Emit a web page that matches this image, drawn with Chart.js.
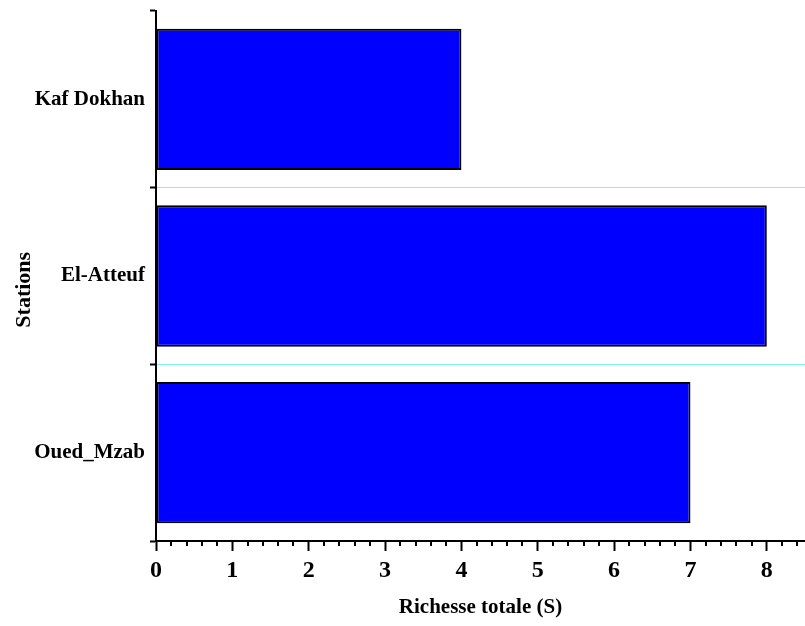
<!DOCTYPE html>
<html>
<head>
<meta charset="utf-8">
<script src="https://cdn.jsdelivr.net/npm/chart.js@4"></script>
<style>
  html, body { margin: 0; padding: 0; background: #fff; }
  #wrap { width: 805px; height: 626px; }
</style>
</head>
<body>
<div id="wrap"><canvas id="chart" width="805" height="626"></canvas></div>
<script>
const stations = ["Kaf Dokhan", "El-Atteuf", "Oued_Mzab"];
const richesse = [4, 8, 7];
const xTicks = [0, 1, 2, 3, 4, 5, 6, 7, 8];
const xMin = 0;
const xMax = 8.5;
const minorStep = 0.2;

const FONT = "'Liberation Serif', 'Times New Roman', serif";

// minor ticks on the x axis, placed through the scale
const minorTicks = {
    id: "minorTicks",
    afterDraw(chart) {
        const sx = chart.scales.x;
        const ctx = chart.ctx;
        ctx.save();
        ctx.strokeStyle = "#000";
        ctx.lineWidth = 2;
        for (let i = 1; i * minorStep < xMax; i++) {
            if (i % 5 === 0) continue;
            const px = Math.round(sx.getPixelForValue(i * minorStep));
            ctx.beginPath();
            ctx.moveTo(px, sx.top);
            ctx.lineTo(px, sx.top + 5);
            ctx.stroke();
        }
        ctx.restore();
    }
};

new Chart(document.getElementById("chart"), {
    type: "bar",
    data: {
        labels: stations,
        datasets: [{
            data: richesse,
            backgroundColor: "#0000ff",
            borderColor: "#000",
            borderWidth: 2,
            borderSkipped: false,
            categoryPercentage: 0.8,
            barPercentage: 1
        }]
    },
    options: {
        indexAxis: "y",
        responsive: false,
        animation: false,
        layout: { padding: { top: 11, right: 0, left: 0, bottom: 0 } },
        plugins: {
            legend: { display: false },
            tooltip: { enabled: false }
        },
        scales: {
            x: {
                type: "linear",
                min: xMin,
                max: xMax,
                afterBuildTicks(scale) { scale.ticks = xTicks.map(v => ({ value: v })); },
                afterFit(scale) {
                    scale.height = 85;
                    scale.paddingLeft = 0;
                    scale.paddingRight = 0;
                },
                border: { display: true, color: "#000", width: 2 },
                grid: {
                    drawOnChartArea: false,
                    drawTicks: true,
                    tickLength: 10,
                    tickWidth: 2,
                    tickColor: "#000"
                },
                ticks: {
                    autoSkip: false,
                    maxRotation: 0,
                    color: "#000",
                    padding: 5,
                    font: { family: FONT, size: 24, weight: "bold" }
                },
                title: {
                    display: true,
                    text: "Richesse totale (S)",
                    color: "#000",
                    padding: { top: 0, bottom: 6 },
                    font: { family: FONT, size: 21, weight: "bold" }
                }
            },
            y: {
                afterFit(scale) {
                    scale.width = 156;
                    scale.paddingTop = 0;
                    scale.paddingBottom = 0;
                },
                border: { display: true, color: "#000", width: 2 },
                grid: {
                    offset: true,
                    drawOnChartArea: true,
                    drawTicks: true,
                    tickLength: 6,
                    tickWidth: 2,
                    tickColor: "#000",
                    lineWidth: 1,
                    color: ctx => (ctx.index === 0 || ctx.index === stations.length) ? "rgba(0,0,0,0)" : "#7ff5f5"
                },
                ticks: {
                    color: "#000",
                    padding: 5,
                    font: { family: FONT, size: 21, weight: "bold" }
                },
                title: {
                    display: true,
                    // trailing spaces push the rotated title a little lower, as in the source
                    text: "Stations     ",
                    color: "#000",
                    padding: { top: 11, bottom: 0 },
                    font: { family: FONT, size: 22, weight: "bold" }
                }
            }
        }
    },
    plugins: [minorTicks]
});
</script>
</body>
</html>
